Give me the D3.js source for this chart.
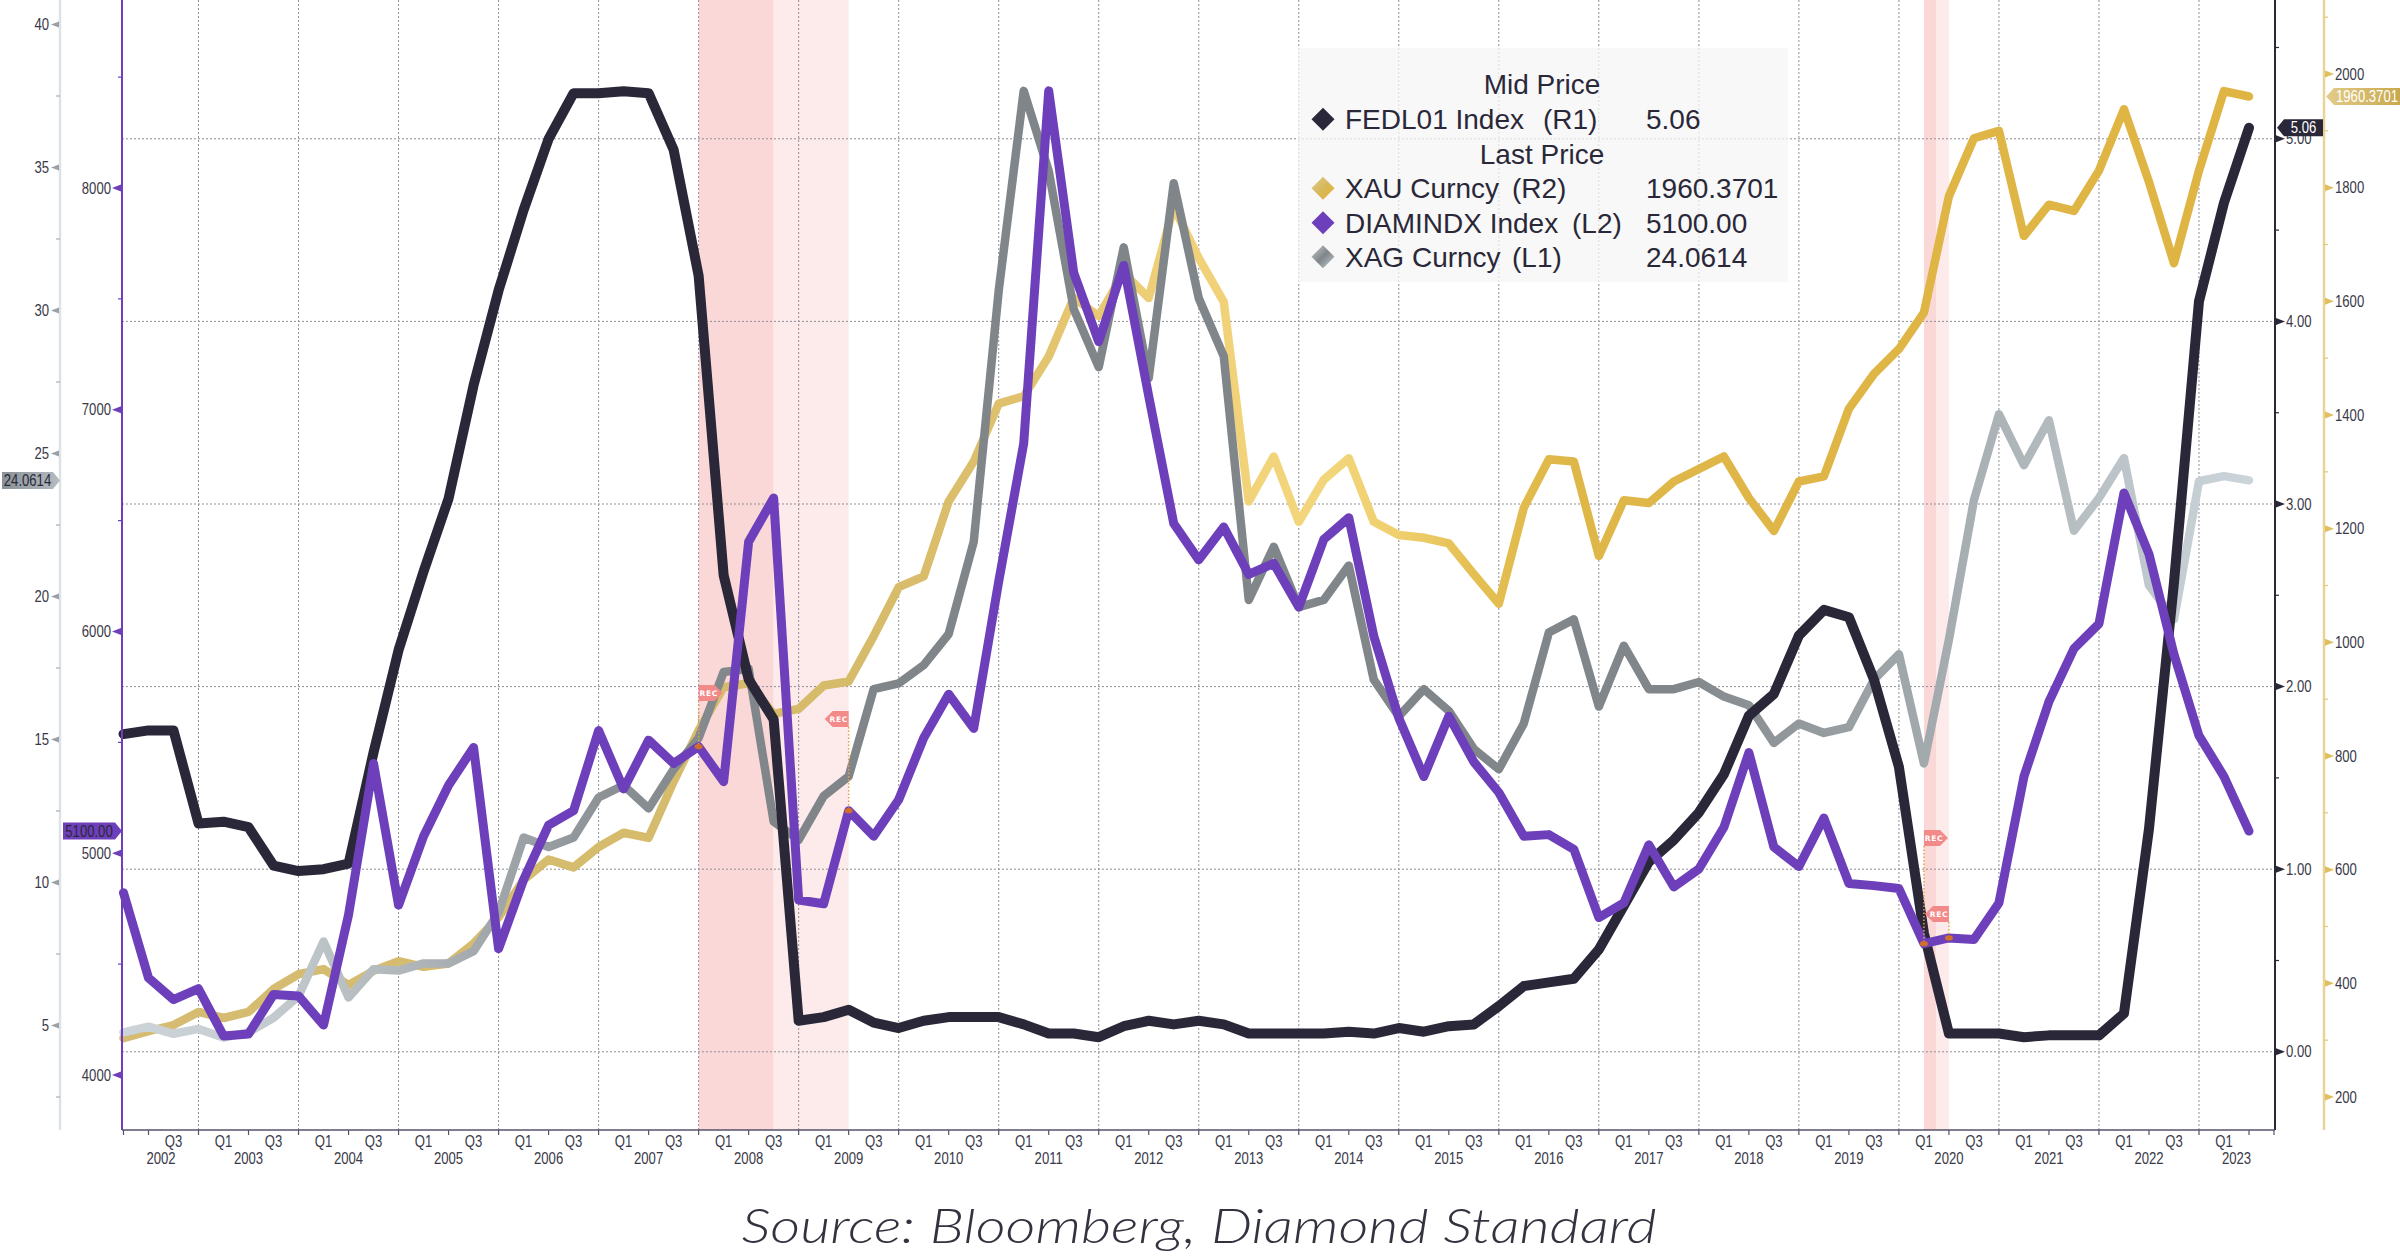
<!DOCTYPE html>
<html><head><meta charset="utf-8">
<script src="https://cdn.jsdelivr.net/npm/d3@7"></script>
<style>body{margin:0;background:#fff}svg{display:block}</style>
</head><body>
<svg id="chart" width="2400" height="1260"></svg>
<script>
// ---------- DATA (quarter-end values, Q1 2002 .. Q2 2023) ----------
const firstYear = 2002;
const lastYear = 2023;
const fedl = [1.74,1.76,1.76,1.25,1.26,1.23,1.02,0.99,1.00,1.03,
  1.64,2.20,2.63,3.03,3.65,4.17,4.61,5.00,5.25,5.25,
  5.26,5.25,4.94,4.25,2.61,2.04,1.82,0.17,0.19,0.23,
  0.16,0.13,0.17,0.19,0.19,0.19,0.15,0.10,0.10,0.08,
  0.14,0.17,0.15,0.17,0.15,0.10,0.10,0.10,0.10,0.11,
  0.10,0.13,0.11,0.14,0.15,0.25,0.36,0.38,0.40,0.56,
  0.80,1.04,1.16,1.31,1.52,1.84,1.96,2.28,2.42,2.38,
  2.04,1.56,0.65,0.10,0.10,0.10,0.08,0.09,0.09,0.09,
  0.21,1.22,2.57,4.11,4.65,5.06];
const xau = [303.5,316,326.5,349.6,339,349.6,390,416,425,397,
  422,439,429,435,470,516,582,618,604,640,
  665,656,755,845,921,928,874,883,924,931,
  1011,1097,1116,1248,1318,1420,1433,1503,1606,1574,
  1650,1606,1766,1676,1599,1248,1327,1212,1286,1324,
  1212,1189,1184,1174,1120,1068,1237,1322,1318,1152,
  1250,1245,1283,1305,1327,1254,1196,1283,1292,1411,
  1472,1516,1580,1785,1887,1900,1715,1770,1759,1830,
  1938,1810,1667,1830,1970,1960.37];
const diam = [4822,4438,4340,4389,4176,4185,4363,4356,4225,4723,
  5405,4766,5077,5307,5477,4569,4881,5127,5192,5553,
  5290,5510,5405,5481,5323,6405,6602,4789,4772,5192,
  5077,5241,5520,5717,5563,6225,6848,8438,7618,7307,
  7651,7061,6487,6323,6471,6258,6307,6110,6415,6513,
  5979,5610,5346,5618,5412,5274,5077,5084,5018,4710,
  4776,5038,4848,4929,5117,5454,5028,4940,5159,4864,
  4854,4841,4592,4618,4611,4776,5346,5684,5923,6035,
  6625,6349,5897,5530,5346,5100];
const xag = [4.76,4.96,4.71,4.88,4.58,4.76,5.27,6.03,7.94,5.98,
  6.97,6.92,7.17,7.17,7.6,8.95,11.57,11.24,11.57,12.97,
  13.4,12.59,13.96,15.05,17.36,17.47,12.13,11.49,13.02,13.71,
  16.76,16.96,17.6,18.69,21.91,30.69,37.68,34.88,30.05,28.02,
  32.21,27.64,34.45,30.43,28.4,19.88,21.74,19.63,19.88,21.08,
  17.09,15.81,16.76,16.0,14.67,13.96,15.56,18.74,19.2,16.15,
  18.28,16.76,16.76,17.01,16.5,16.2,14.88,15.56,15.23,15.43,
  17.09,17.98,14.16,18.49,23.37,26.37,24.59,26.16,22.3,23.44,
  24.84,20.39,19.2,24.03,24.21,24.06];

const xagTicks = [5,10,15,20,25,30,35,40];
const diamTicks = [4000,5000,6000,7000,8000];
const fedlTicks = [0,1,2,3,4,5];
const xauTicks = [200,400,600,800,1000,1200,1400,1600,1800,2000];
const fedlTickLabels = ["0.00","1.00","2.00","3.00","4.00","5.00"];

// recessions in quarter-index units
const recStart = [23, 72];
const recMid   = [26, 72.5];
const recEnd   = [29, 73];

const legendNames = ["FEDL01 Index","XAU Curncy","DIAMINDX Index","XAG Curncy"];
const legendAxes  = ["(R1)","(R2)","(L2)","(L1)"];
const legendValues = ["5.06","1960.3701","5100.00","24.0614"];
const lastLabels = {xag:"24.0614", diam:"5100.00", fedl:"5.06", xau:"1960.3701"};

// ---------- SETUP ----------
const svg = d3.select('#chart');
const nQ = (lastYear - firstYear) * 4 + 2; // 86: right edge = Q3 2023
const x = d3.scaleLinear().domain([0, nQ]).range([123.5, 2274]);
const yXAG = d3.scaleLinear().domain([5,40]).range([1025.5,24.5]);
const yDIA = d3.scaleLinear().domain([4000,8000]).range([1075,188]);
const yFED = d3.scaleLinear().domain([0,5]).range([1051.8,138.8]);
const yXAU = d3.scaleLinear().domain([200,2000]).range([1097,74]);
const plotL = 122, plotR = 2275, axisY = 1130;
const txt = '#3a3948';
const baseFont = '"Liberation Sans",Arial,sans-serif';

// condensed text helper (Arial metrics squeezed horizontally)
function ntext(parent, xp, yp, str, anchor, size, fill){
  return parent.append('text').attr('transform',`translate(${xp},${yp}) scale(0.82,1)`)
    .attr('text-anchor',anchor||'start').attr('font-family',baseFont)
    .attr('font-size',size).attr('fill',fill).text(str);
}

svg.append('rect').attr('width',2400).attr('height',1260).attr('fill','#fff');

const defs = svg.append('defs');
function grad(id, stops, x1, x2, y1, y2, units){
  const g = defs.append('linearGradient').attr('id', id)
    .attr('x1',x1).attr('x2',x2).attr('y1',y1).attr('y2',y2);
  if (units) g.attr('gradientUnits', units);
  stops.forEach(s => g.append('stop').attr('offset', s[0]).attr('stop-color', s[1]));
}
const silverStops = [[0,'#ccd4d9'],[5,'#c6ced3'],[8,'#bcc3c7'],[12,'#adb3b6'],[16,'#9ba1a4'],
  [20,'#888e91'],[26,'#7f8589'],[62,'#80868a'],[66,'#8f9598'],[70,'#9ca3a6'],
  [74,'#a9b0b4'],[78,'#b6bec2'],[82,'#c3ccd1'],[86,'#cdd7dd']];
const goldStops = [[0,'#d5bc72'],[30,'#d6bb6a'],[34,'#dcbf6c'],[38,'#e6c670'],[42,'#f0d078'],
  [48,'#f3d67c'],[51,'#efcf6e'],[54,'#e4bf52'],[58,'#dfb748'],[86,'#dfb443']];
grad('gSilver', silverStops.map(s=>[s[0]/nQ, s[1]]), x(0), x(nQ), 0, 0, 'userSpaceOnUse');
grad('gGold', goldStops.map(s=>[s[0]/nQ, s[1]]), x(0), x(nQ), 0, 0, 'userSpaceOnUse');
grad('gLegGold', [[0,'#dccb92'],[0.5,'#d8b85a'],[1,'#e3b330']], 0,1,0,1);
grad('gLegSilver', [[0,'#c9d1d6'],[0.5,'#7f8589'],[1,'#c9d1d6']], 0,1,0,1);
grad('gTagGold', [[0,'#e2cc88'],[1,'#c9a84e']], 0,1,0,0);
grad('gTagSilver', [[0,'#8a9297'],[1,'#b4bcc1']], 0,1,0,0);

// ---------- RECESSION BANDS ----------
recStart.forEach((s,i)=>{
  svg.append('rect').attr('x',x(s)).attr('y',0).attr('width',x(recMid[i])-x(s)).attr('height',axisY)
    .attr('fill','#fbd8d8');
  svg.append('rect').attr('x',x(recMid[i])).attr('y',0).attr('width',x(recEnd[i])-x(recMid[i])).attr('height',axisY)
    .attr('fill','#fdeaea');
});

// ---------- GRIDLINES ----------
const grid = svg.append('g').attr('stroke','#8f8f96').attr('stroke-width',1).attr('stroke-dasharray','2,2');
fedlTicks.forEach(v=>{
  grid.append('line').attr('x1',plotL).attr('x2',plotR).attr('y1',yFED(v)).attr('y2',yFED(v));
});
d3.range(firstYear+1, lastYear+1).forEach(yr=>{
  const q = (yr-firstYear)*4 - 1;
  grid.append('line').attr('x1',x(q)).attr('x2',x(q)).attr('y1',0).attr('y2',axisY);
});

// ---------- LINES ----------
function drawLine(data, yS, stroke, w){
  const line = d3.line().x((d,i)=>x(i)).y(d=>yS(d));
  svg.append('path').datum(data).attr('d',line).attr('fill','none')
    .attr('stroke',stroke).attr('stroke-width',w)
    .attr('stroke-linejoin','round').attr('stroke-linecap','round');
}
drawLine(xau, yXAU, 'url(#gGold)', 8.5);
drawLine(xag, yXAG, 'url(#gSilver)', 8.5);
drawLine(fedl, yFED, '#2a2838', 10);
drawLine(diam, yDIA, '#6e3fbb', 9);

// ---------- REC ANNOTATIONS ----------
const recTagY = [[693, 719],[838, 914]];
recStart.forEach((s,i)=>{
  [[s,'r',recTagY[i][0]],[recEnd[i],'l',recTagY[i][1]]].forEach(([q,dir,ty])=>{
    const px = x(q), dy = yDIA(diam[q]);
    const g = svg.append('g');
    g.append('line').attr('x1',px).attr('x2',px).attr('y1',ty+8).attr('y2',dy)
      .attr('stroke','#e9a04a').attr('stroke-width',1.5).attr('stroke-dasharray','1.5,2');
    const pts = dir==='r'
      ? [[px,ty-8],[px+16,ty-8],[px+24,ty],[px+16,ty+8],[px,ty+8]]
      : [[px,ty-8],[px-16,ty-8],[px-24,ty],[px-16,ty+8],[px,ty+8]];
    g.append('polygon').attr('points',pts.map(p=>p.join(',')).join(' ')).attr('fill','#f38a8a');
    g.append('text').attr('x', dir==='r'? px+10 : px-10).attr('y',ty+3)
      .attr('text-anchor','middle').attr('font-family','"DejaVu Sans",sans-serif')
      .attr('font-size',7.5).attr('font-weight','bold').attr('letter-spacing',0.6)
      .attr('fill','#fff').text('REC');
    g.append('ellipse').attr('cx',px).attr('cy',dy).attr('rx',4).attr('ry',2.6).attr('fill','#cf6f2a');
  });
});

// ---------- AXES ----------
function vLine(xp, color, w){
  svg.append('line').attr('x1',xp).attr('x2',xp).attr('y1',0).attr('y2',axisY)
    .attr('stroke',color).attr('stroke-width',w);
}
// L1 silver axis
vLine(60,'#dde2e6',2.5);
xagTicks.forEach(v=>{
  const y = yXAG(v);
  svg.append('polygon').attr('points',`${59},${y-3} ${51},${y} ${59},${y+3}`).attr('fill','#9aa1a6');
  ntext(svg, 49, y+5.5, v, 'end', 16, txt);
});
d3.range(2.5, 40, 5).forEach(v=>{
  const y = yXAG(v); if (y>axisY) return;
  svg.append('line').attr('x1',56).attr('x2',60).attr('y1',y).attr('y2',y).attr('stroke','#9aa1a6').attr('stroke-width',1);
});
// L2 purple axis
vLine(122,'#6e3fbb',2);
diamTicks.forEach(v=>{
  const y = yDIA(v);
  svg.append('polygon').attr('points',`${121},${y-3.5} ${112},${y} ${121},${y+3.5}`).attr('fill','#6e3fbb');
  ntext(svg, 111, y+5.5, v, 'end', 16, txt);
});
d3.range(4500, 9000, 1000).forEach(v=>{
  const y = yDIA(v); if (y<0) return;
  svg.append('line').attr('x1',118).attr('x2',122).attr('y1',y).attr('y2',y).attr('stroke','#6e3fbb').attr('stroke-width',1.2);
});
// R1 fed axis
vLine(2275,'#2a2838',2);
fedlTicks.forEach((v,i)=>{
  const y = yFED(v);
  svg.append('polygon').attr('points',`${2276},${y-3.5} ${2285},${y} ${2276},${y+3.5}`).attr('fill','#2a2838');
  ntext(svg, 2286, y+5.5, fedlTickLabels[i], 'start', 16, txt);
});
d3.range(0.5, 6, 1).forEach(v=>{
  const y = yFED(v); if (y<0) return;
  svg.append('line').attr('x1',2275).attr('x2',2279).attr('y1',y).attr('y2',y).attr('stroke','#2a2838').attr('stroke-width',1.2);
});
// R2 gold axis
vLine(2324,'#e8d498',2.5);
xauTicks.forEach(v=>{
  const y = yXAU(v);
  svg.append('polygon').attr('points',`${2325},${y-3.5} ${2334},${y} ${2325},${y+3.5}`).attr('fill','#dfbf5e');
  ntext(svg, 2335, y+5.5, v, 'start', 16, txt);
});
d3.range(300, 2200, 200).forEach(v=>{
  const y = yXAU(v); if (y<0 || y>axisY) return;
  svg.append('line').attr('x1',2324).attr('x2',2328).attr('y1',y).attr('y2',y).attr('stroke','#e3c874').attr('stroke-width',1.2);
});

// X axis
svg.append('line').attr('x1',plotL).attr('x2',plotR).attr('y1',axisY).attr('y2',axisY)
  .attr('stroke','#55526a').attr('stroke-width',1.5);
d3.range(0, nQ+1).forEach(q=>{
  if (q%2===1 || q===0 || q===nQ){
    svg.append('line').attr('x1',x(q)).attr('x2',x(q)).attr('y1',axisY).attr('y2',axisY+5)
      .attr('stroke','#55526a').attr('stroke-width',1.2);
  }
  if ((q%4===0 || q%4===2) && q!==0 && q!==nQ){
    ntext(svg, x(q), axisY+17, q%4===0?'Q1':'Q3', 'middle', 16, txt);
  }
});
d3.range(firstYear, lastYear+1).forEach(yr=>{
  const a = Math.max(0,(yr-firstYear)*4-1), b = Math.min(nQ,(yr-firstYear)*4+3);
  ntext(svg, (x(a)+x(b))/2, axisY+34, yr, 'middle', 16, txt);
});

// ---------- LAST VALUE TAGS ----------
function tag(yc, xa, xb, tip, fill, textColor, label){
  const h = 8.5;
  const pts = tip > xb ? [[xa,yc-h],[xb,yc-h],[tip,yc],[xb,yc+h],[xa,yc+h]]
                       : [[xb,yc-h],[xa,yc-h],[tip,yc],[xa,yc+h],[xb,yc+h]];
  svg.append('polygon').attr('points',pts.map(p=>p.join(',')).join(' ')).attr('fill',fill);
  ntext(svg, (xa+xb)/2, yc+5.5, label, 'middle', 16, textColor);
}
tag(yXAG(xag[xag.length-1]), 2, 53, 60, 'url(#gTagSilver)', '#2a2838', lastLabels.xag);
tag(yDIA(diam[diam.length-1]), 63, 115, 122, '#6e3fbb', '#2a2838', lastLabels.diam);
tag(yFED(fedl[fedl.length-1]), 2284, 2323, 2277, '#2a2838', '#ffffff', lastLabels.fedl);
tag(yXAU(xau[xau.length-1]), 2334, 2400, 2326, 'url(#gTagGold)', '#ffffff', lastLabels.xau);

// ---------- LEGEND ----------
svg.append('rect').attr('x',1298).attr('y',48).attr('width',490).attr('height',234)
  .attr('fill','#f6f6f6').attr('opacity',0.75);
const lg = svg.append('g').attr('font-family',baseFont).attr('font-size',28).attr('fill','#2a2838');
lg.append('text').attr('x',1542).attr('y',94).attr('text-anchor','middle').text('Mid Price');
lg.append('text').attr('x',1542).attr('y',164).attr('text-anchor','middle').text('Last Price');
const rowY = [129.3, 198.3, 232.7, 266.7];
const axX = [1543, 1512, 1572, 1512];
const diaFill = ['#2a2838','url(#gLegGold)','#6e3fbb','url(#gLegSilver)'];
legendNames.forEach((n,i)=>{
  const cy = rowY[i]-10;
  lg.append('polygon').attr('points',`1323,${cy-11.5} 1334.5,${cy} 1323,${cy+11.5} 1311.5,${cy}`).attr('fill',diaFill[i]);
  lg.append('text').attr('x',1345).attr('y',rowY[i]).text(n);
  lg.append('text').attr('x',axX[i]).attr('y',rowY[i]).text(legendAxes[i]);
  lg.append('text').attr('x',1646).attr('y',rowY[i]).text(legendValues[i]);
});

// ---------- SOURCE ----------
svg.append('text').attr('x',1199).attr('y',1243).attr('text-anchor','middle')
  .attr('font-family','Lato,"Open Sans",sans-serif').attr('font-style','italic').attr('font-weight',300)
  .attr('font-size',48).attr('fill','#34323f')
  .attr('textLength',915).attr('lengthAdjust','spacingAndGlyphs')
  .text('Source: Bloomberg, Diamond Standard');
</script>
</body></html>
